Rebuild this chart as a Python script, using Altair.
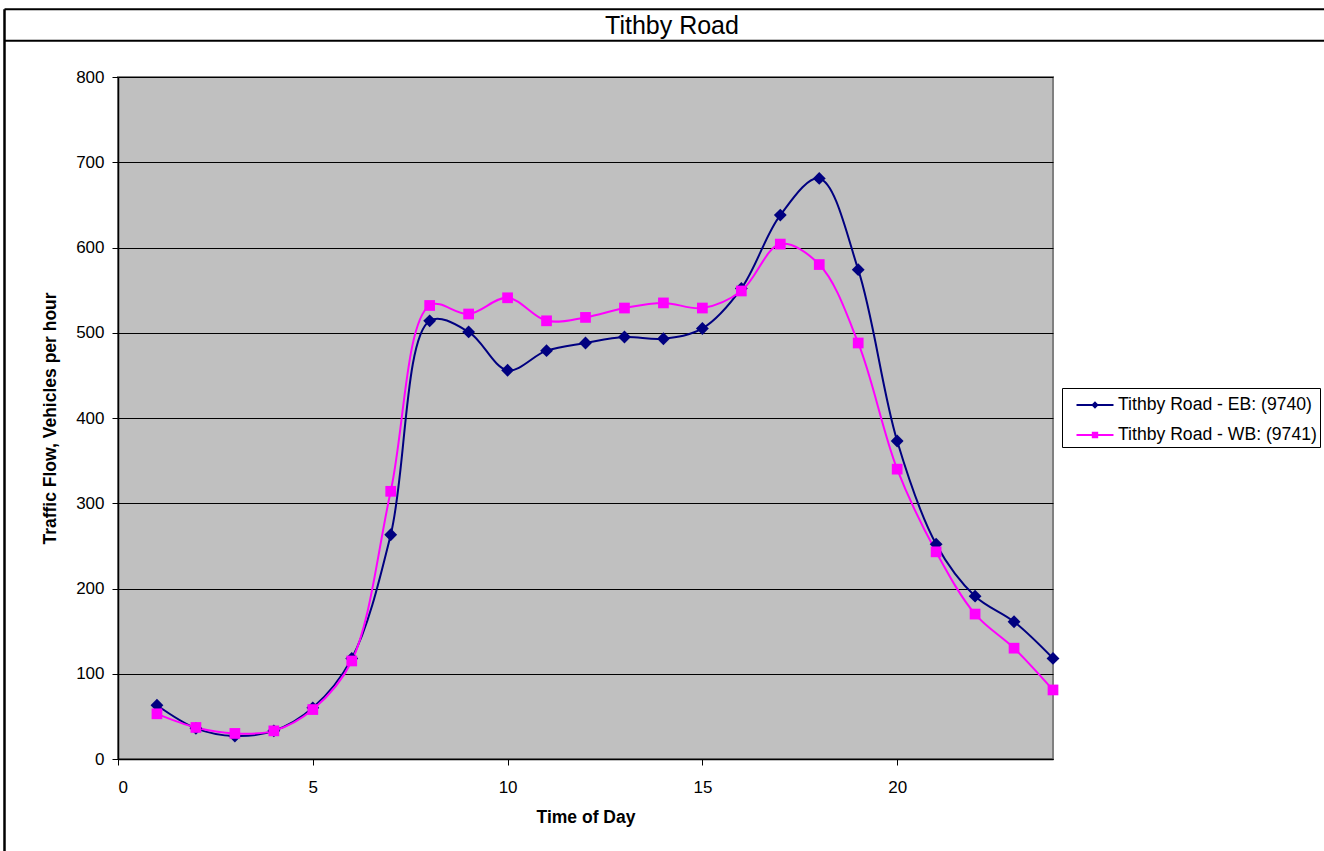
import altair as alt
import pandas as pd

# Hourly two-way traffic counts on Tithby Road
hours = list(range(1, 25))
eb_flow = [63, 36, 27, 33, 60, 118, 263, 514, 501, 456, 479, 488,
           495, 493, 505, 552, 638, 681, 574, 373, 252, 191, 161, 118]
wb_flow = [53, 37, 30, 33, 58, 115, 314, 532, 522, 541, 514, 518,
           529, 535, 529, 549, 604, 580, 488, 340, 243, 170, 130, 81]
series_names = ["Tithby Road - EB: (9740)", "Tithby Road - WB: (9741)"]
series_colors = ["#000080", "#FF00FF"]
x_ticks = [0, 5, 10, 15, 20]
y_ticks = [0, 100, 200, 300, 400, 500, 600, 700, 800]
chart_title = "Tithby Road"

df = pd.concat([
    pd.DataFrame({"hour": hours, "flow": eb_flow, "series": series_names[0]}),
    pd.DataFrame({"hour": hours, "flow": wb_flow, "series": series_names[1]}),
])

FONT = "Liberation Sans"
PLOT_W, PLOT_H = 935, 682

x_enc = alt.X("hour:Q", scale=alt.Scale(domain=[0, 24], nice=False),
              axis=alt.Axis(values=x_ticks, title="Time of Day", grid=False,
                            labelPadding=14, titlePadding=13))
y_enc = alt.Y("flow:Q", scale=alt.Scale(domain=[0, 800], nice=False),
              axis=alt.Axis(values=y_ticks, title="Traffic Flow, Vehicles per hour",
                            grid=True, gridColor="#000000", gridWidth=1,
                            labelPadding=8, titlePadding=16))

def color_enc(legend=None):
    return alt.Color("series:N",
                     scale=alt.Scale(domain=series_names, range=series_colors),
                     legend=legend)

lines = alt.Chart(df).mark_line(interpolate="catmull-rom", strokeWidth=2).encode(
    x=x_enc, y=y_enc, color=color_enc(), detail="series:N", order="hour:Q")

points = alt.Chart(df).mark_point(filled=True, opacity=1).encode(
    x=x_enc, y=y_enc, color=color_enc(),
    shape=alt.Shape("series:N",
                    scale=alt.Scale(domain=series_names, range=["diamond", "square"]),
                    legend=None),
    size=alt.Size("series:N",
                  scale=alt.Scale(domain=series_names, range=[165, 115]),
                  legend=None),
)

# legend glyphs: a short line segment with the series marker on it
eb_glyph = ("M-0.172,-0.069H2.379V0.069H-0.172Z "
            "M1.103,-0.255L1.358,0L1.103,0.255L0.848,0Z")
wb_glyph = ("M-0.172,-0.069H2.379V0.069H-0.172Z "
            "M0.883,-0.22H1.323V0.22H0.883Z")

legend_props = dict(
    title=None, orient="none", legendX=944, legendY=311,
    padding=2.5, strokeColor="#000000", fillColor="#FFFFFF",
    labelFont=FONT, labelFontSize=17.6, labelColor="#000000", labelLimit=0,
    labelOffset=24.5, rowPadding=6, symbolSize=841,
    symbolStrokeWidth=0, symbolOpacity=1,
)

# legend-only layer: no rows are drawn, the fixed scale domains feed the legend
legend_layer = alt.Chart(df).transform_filter("datum.hour < 0").mark_point(filled=True).encode(
    x=x_enc, y=y_enc,
    color=color_enc(alt.Legend(**legend_props)),
    shape=alt.Shape("series:N",
                    scale=alt.Scale(domain=series_names, range=[eb_glyph, wb_glyph]),
                    legend=alt.Legend(**legend_props)),
)

# outer frame and the title box
frame_src = pd.DataFrame({"k": [0]})
left_edge = alt.Chart(frame_src).mark_rule(color="#000000", strokeWidth=2.5).encode(
    x=alt.value(-113.5), y=alt.value(-67.8), y2=alt.value(774))
top_edge = alt.Chart(frame_src).mark_rule(color="#000000", strokeWidth=2).encode(
    x=alt.value(-113.5), x2=alt.value(1206), y=alt.value(-67.8))
title_edge = alt.Chart(frame_src).mark_rule(color="#000000", strokeWidth=2).encode(
    x=alt.value(-113.5), x2=alt.value(1206), y=alt.value(-36.2))
title_text = alt.Chart(pd.DataFrame({"t": [chart_title]})).mark_text(
    font=FONT, fontSize=25, color="#000000", align="center", baseline="alphabetic"
).encode(text="t:N", x=alt.value(554), y=alt.value(-43))

chart = alt.layer(
    left_edge, top_edge, title_edge, title_text, lines, points, legend_layer
).resolve_scale(
    color="independent", shape="independent", size="independent"
).properties(
    width=PLOT_W, height=PLOT_H,
    autosize=alt.AutoSizeParams(type="none"),
    padding={"left": 118, "top": 77, "right": 271, "bottom": 92},
    background="#FFFFFF",
).configure_view(
    fill="#C0C0C0", stroke="#808080", strokeWidth=2
).configure_axis(
    labelFont=FONT, labelFontSize=17, labelColor="#000000",
    titleFont=FONT, titleFontSize=17.5, titleFontWeight="bold", titleColor="#000000",
    domainColor="#000000", domainWidth=1.5, tickColor="#000000", tickSize=6, tickWidth=1,
)

chart.save("out.html", embed_options={"renderer": "svg", "actions": False})
